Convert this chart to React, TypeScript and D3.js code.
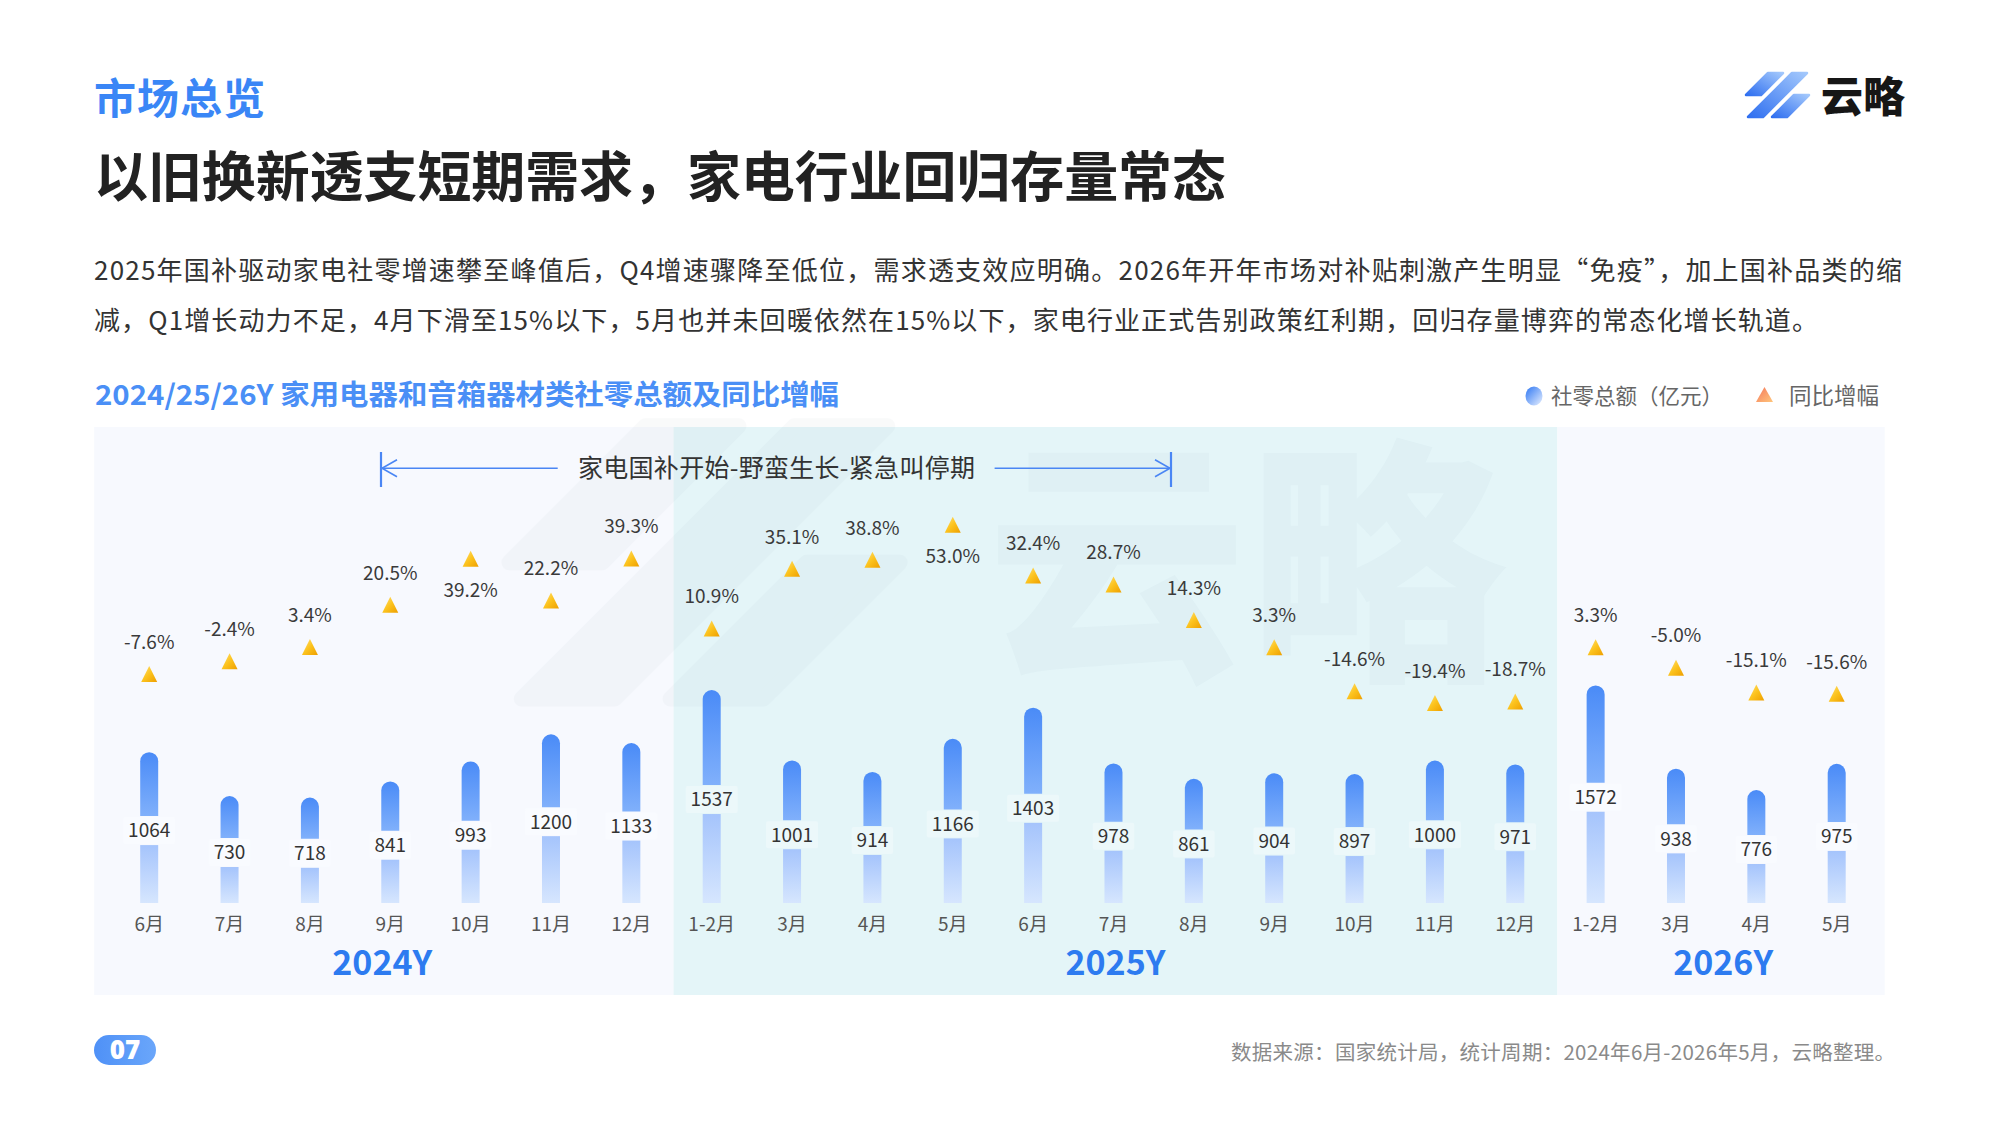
import React from 'react';
import * as d3 from 'd3';

// ---------- data ----------
const months = ["6月","7月","8月","9月","10月","11月","12月","1-2月","3月","4月","5月","6月","7月","8月","9月","10月","11月","12月","1-2月","3月","4月","5月"];
const years = ["2024Y","2025Y","2026Y"];
const yearOf = [0,0,0,0,0,0,0,1,1,1,1,1,1,1,1,1,1,1,2,2,2,2];
const retail = [1064,730,718,841,993,1200,1133,1537,1001,914,1166,1403,978,861,904,897,1000,971,1572,938,776,975];
const yoy = [-7.6,-2.4,3.4,20.5,39.2,22.2,39.3,10.9,35.1,38.8,53.0,32.4,28.7,14.3,3.3,-14.6,-19.4,-18.7,3.3,-5.0,-15.1,-15.6];
const yoyLabelBelow = [4, 10];

const section = "市场总览";
const headline = "以旧换新透支短期需求，家电行业回归存量常态";
const para1 = "2025年国补驱动家电社零增速攀至峰值后，Q4增速骤降至低位，需求透支效应明确。2026年开年市场对补贴刺激产生明显“免疫”，加上国补品类的缩";
const para2 = "减，Q1增长动力不足，4月下滑至15%以下，5月也并未回暖依然在15%以下，家电行业正式告别政策红利期，回归存量博弈的常态化增长轨道。";
const chartTitle = "2024/25/26Y 家用电器和音箱器材类社零总额及同比增幅";
const legendNames = ["社零总额（亿元）", "同比增幅"];
const annotation = "家电国补开始-野蛮生长-紧急叫停期";
const source = "数据来源：国家统计局，统计周期：2024年6月-2026年5月，云略整理。";
const pageNo = "07";
const brand = "云略";

const FONT = '"Noto Sans CJK SC", "Noto Sans", sans-serif';
const panelFill = ["#f7f9fe", "#e4f5f8", "#f7f9fe"];
const boxFill = ["#f9fbff", "#ecf8fa", "#f9fbff"];

// logo strokes in local units (top-right edge -> bottom-left edge)
const strokes = [
  [[23, 0], [38, 0], [16, 22], [1, 22]],
  [[47, 0], [62, 0], [18, 44], [3, 44]],
  [[49, 22], [64, 22], [42, 44], [27, 44]],
];
function Icon({ fill, transform, opacity = 1 }: { fill: string; transform: string; opacity?: number }) {
  return (
    <g transform={transform} opacity={opacity}>
      {strokes.map((p, i) => (
        <path key={i} d={"M" + p.map((q) => q.join(",")).join("L") + "Z"} fill={fill}
          stroke={fill} strokeWidth={2.5} strokeLinejoin="round" />
      ))}
    </g>
  );
}

export default function App() {
  const n = months.length;
  const x = d3.scalePoint<number>().domain(d3.range(n)).range([149.2, 1836.7]);
  const yBar = d3.scaleLinear().domain([0, 1600]).range([891.9, 681.8]);
  const baseY = 903;
  const yPct = d3.scaleLinear().domain([-20, 55]).range([704.6, 519.8]);
  const bw = 18;
  const r = bw / 2;
  const gapH = 29;

  const groups = years.map((yr, g) => {
    const idx = d3.range(n).filter((i) => yearOf[i] === g);
    return { yr, g, first: idx[0], last: idx[idx.length - 1], mid: d3.mean(idx.map((i) => x(i)!))! };
  });
  const panelX = (g: number) => {
    const gr = groups[g];
    const x0 = g === 0 ? x(gr.first)! - 55 : (x(gr.first)! + x(gr.first - 1)!) / 2 + 2;
    const x1 = g === groups.length - 1 ? x(gr.last)! + 48 : (x(gr.last)! + x(gr.last + 1)!) / 2 + 2;
    return [x0, x1];
  };

  const tri = (cx: number, cy: number, w: number, h: number) =>
    `M${cx},${cy - h / 2}L${cx + w / 2},${cy + h / 2}L${cx - w / 2},${cy + h / 2}Z`;

  return (
    <svg width={2000} height={1125} style={{ position: 'fixed', left: 0, top: 0, background: '#fff' }}
      fontFamily={FONT}>
      <defs>
        <linearGradient id="barTop" x1="0" y1="0" x2="0" y2="1">
          <stop offset="0" stopColor="#4a8bf7" />
          <stop offset="1" stopColor="#80b0fb" />
        </linearGradient>
        <linearGradient id="barBot" x1="0" y1="0" x2="0" y2="1">
          <stop offset="0" stopColor="#a5c4fc" />
          <stop offset="1" stopColor="#d6e6fe" />
        </linearGradient>
        <linearGradient id="gold" x1="0" y1="0" x2="1" y2="1">
          <stop offset="0" stopColor="#ffe27a" />
          <stop offset="0.5" stopColor="#fcc31e" />
          <stop offset="1" stopColor="#ee9f00" />
        </linearGradient>
        <linearGradient id="legTri" x1="0" y1="0" x2="1" y2="1">
          <stop offset="0" stopColor="#f4765a" />
          <stop offset="1" stopColor="#ffc67c" />
        </linearGradient>
        <linearGradient id="legDot" x1="0" y1="0" x2="1" y2="1">
          <stop offset="0.1" stopColor="#3f82f4" />
          <stop offset="1" stopColor="#e8f0ff" />
        </linearGradient>
        <linearGradient id="logoG" x1="0" y1="1" x2="1" y2="0">
          <stop offset="0" stopColor="#2f6ff0" />
          <stop offset="1" stopColor="#a3c8fc" />
        </linearGradient>
        <linearGradient id="pill" x1="0" y1="0" x2="1" y2="0">
          <stop offset="0" stopColor="#4f91f7" />
          <stop offset="1" stopColor="#6aa6fa" />
        </linearGradient>
      </defs>

      {/* header */}
      <text x={94} y={114} fontSize={42} fontWeight={700} fill="#3a86f6" textLength={171} lengthAdjust="spacing">{section}</text>
      <text x={94} y={196.5} fontSize={54} fontWeight={700} fill="#222" textLength={1132} lengthAdjust="spacing">{headline}</text>
      <text x={94} y={280} fontSize={26} fill="#333" textLength={1808} lengthAdjust="spacing">{para1}</text>
      <text x={94} y={330} fontSize={26} fill="#333" textLength={1724} lengthAdjust="spacing">{para2}</text>

      {/* logo */}
      <Icon fill="url(#logoG)" transform="translate(1745,73)" />
      <text x={1821} y={112} fontSize={42} fontWeight={900} fill="#161616">{brand}</text>

      {/* chart title & legend */}
      <text x={95} y={405} fontSize={28} fontWeight={700} fill="#4a8ff6" textLength={744} lengthAdjust="spacingAndGlyphs">{chartTitle}</text>
      <ellipse cx={1534} cy={396} rx={8.5} ry={9.5} fill="url(#legDot)" />
      <text x={1551} y={403.5} fontSize={21.5} fill="#666">{legendNames[0]}</text>
      <path d={tri(1764.5, 394.5, 17, 15)} fill="url(#legTri)" />
      <text x={1789} y={403.5} fontSize={22.5} fill="#666">{legendNames[1]}</text>

      {/* panels */}
      {groups.map((gr) => {
        const [x0, x1] = panelX(gr.g);
        return <rect key={gr.yr} x={x0} y={427} width={x1 - x0} height={568} fill={panelFill[gr.g]} />;
      })}

      {/* watermark */}
      <g>
        <Icon fill="#6d7f92" transform="translate(503,426) scale(6.2)" opacity={0.035} />
        <text x={987} y={660} fontSize={260} fontWeight={900} fill="#6d7f92" fillOpacity={0.04}>{brand}</text>
      </g>

      {/* annotation arrow */}
      <g stroke="#4a86f4" fill="none" strokeWidth={1.6}>
        <line x1={381} y1={452} x2={381} y2={487} strokeWidth={2.2} />
        <line x1={381} y1={468.3} x2={557.7} y2={468.3} />
        <polyline points="397,459.8 382,468.3 397,476.8" />
        <line x1={1171} y1={452} x2={1171} y2={487} strokeWidth={2.2} />
        <line x1={994.6} y1={468.3} x2={1171} y2={468.3} />
        <polyline points="1155,459.8 1170,468.3 1155,476.8" />
      </g>
      <text x={578} y={477} fontSize={25} fill="#333" textLength={397} lengthAdjust="spacing">{annotation}</text>

      {/* bars */}
      {retail.map((v, i) => {
        const cx = x(i)!;
        const top = yBar(v);
        const mid = (top + baseY) / 2 + 3;
        const g0 = mid - gapH / 2;
        const g1 = mid + gapH / 2;
        const xl = cx - bw / 2, xr = cx + bw / 2;
        const upper = `M${xl},${g0}L${xl},${top + r}A${r},${r} 0 0 1 ${xr},${top + r}L${xr},${g0}Z`;
        const label = String(v);
        const boxW = label.length * 10.5 + 10;
        return (
          <g key={i}>
            <path d={upper} fill="url(#barTop)" />
            <rect x={xl} y={g1} width={bw} height={baseY - g1} fill="url(#barBot)" />
            <rect x={cx - boxW / 2} y={g0 + 1} width={boxW} height={gapH - 2} fill={boxFill[yearOf[i]]} rx={2} />
            <text x={cx} y={mid} dy="0.36em" textAnchor="middle" fontSize={19} fill="#333">{label}</text>
          </g>
        );
      })}

      {/* yoy markers */}
      {yoy.map((v, i) => {
        const cx = x(i)!;
        const cy = yPct(v);
        const below = yoyLabelBelow.includes(i);
        const ly = below ? cy + 31 : cy - 32;
        return (
          <g key={i}>
            <path d={tri(cx, cy, 16, 16)} fill="url(#gold)" />
            <text x={cx} y={ly} dy="0.36em" textAnchor="middle" fontSize={19} fill="#3a3a3a">{v.toFixed(1) + "%"}</text>
          </g>
        );
      })}

      {/* month labels */}
      {months.map((m, i) => (
        <text key={i} x={x(i)!} y={924.5} dy="0.36em" textAnchor="middle" fontSize={19} fill="#555">{m}</text>
      ))}

      {/* year labels */}
      {groups.map((gr) => (
        <text key={gr.yr} x={gr.mid + (gr.g === 0 ? -8 : gr.g === 2 ? 7 : 2)} y={975} textAnchor="middle"
          fontSize={34} fontWeight={700} fill="#2d7bf0">{gr.yr}</text>
      ))}

      {/* footer */}
      <rect x={94} y={1035} width={62} height={30} rx={15} fill="url(#pill)" />
      <text x={125} y={1050} dy="0.36em" textAnchor="middle" fontSize={26} fontWeight={800}
        fontFamily='"Open Sans", sans-serif' fill="#fff">{pageNo}</text>
      <text x={1895} y={1060} textAnchor="end" fontSize={20.5} fill="#8a8a8a" textLength={664} lengthAdjust="spacing">{source}</text>
    </svg>
  );
}
